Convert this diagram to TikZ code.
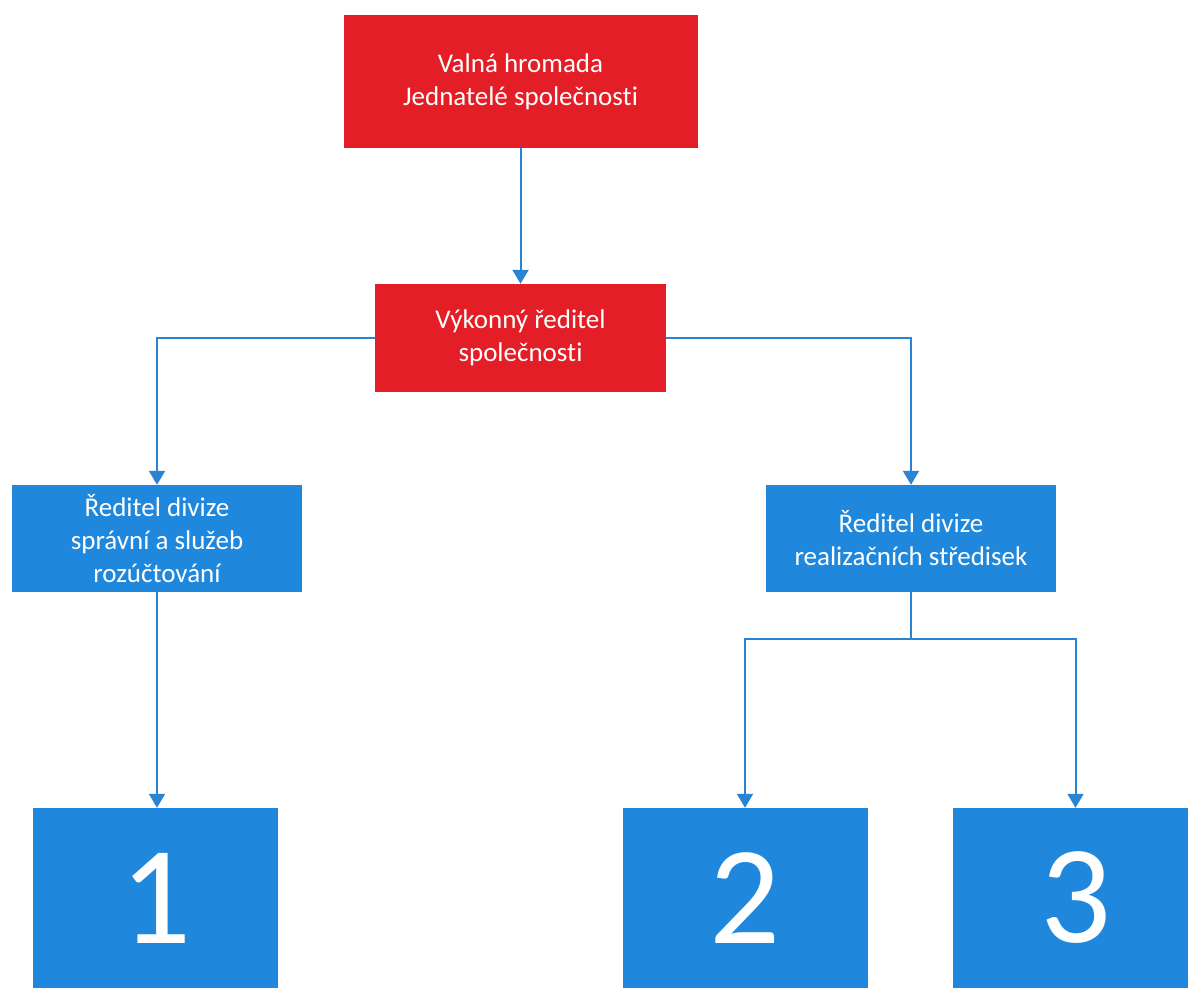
\documentclass[tikz,border=0pt]{standalone}
\usepackage{fontspec}
\setmainfont{Carlito}[Ligatures=NoCommon]
\usetikzlibrary{arrows.meta}
\definecolor{orgred}{RGB}{228,30,38}
\definecolor{orgblue}{RGB}{31,136,221}
\definecolor{lineblue}{RGB}{43,131,211}
\tikzset{
  orgbox/.style={text=white, align=center, inner sep=0pt,
    font=\fontsize{27}{33}\selectfont},
  redbox/.style={orgbox, fill=orgred},
  bluebox/.style={orgbox, fill=orgblue},
  numbox/.style={bluebox, minimum width=245pt, minimum height=180pt,
    font=\fontsize{140}{140}\selectfont},
  arr/.style={lineblue, line width=2pt, -{Triangle[width=16pt,length=14pt]}},
  conn/.style={lineblue, line width=2pt}
}
\begin{document}
\begin{tikzpicture}[x=1pt,y=-1pt]
    \useasboundingbox (0,0) rectangle (1188,988);
    \clip (0,0) rectangle (1188,988);
    % boxes
    \node[redbox, minimum width=354pt, minimum height=133pt] (valna) at (520.5,81.5) {Valná hromada\\Jednatelé společnosti};
    \node[redbox, minimum width=291pt, minimum height=108pt] (vykonny) at (520.5,338) {Výkonný ředitel\\společnosti};
    \node[bluebox, minimum width=290pt, minimum height=107pt] (spravni) at (157,538.5) {Ředitel divize\\správní a služeb\\rozúčtování};
    \node[bluebox, minimum width=290pt, minimum height=107pt] (realiz) at (911,538.5) {Ředitel divize\\realizačních středisek};
    \node[numbox] (div1) at (155.5,898) {1};
    \node[numbox] (div2) at (745,898) {2};
    \node[numbox] (div3) at (1075.5,898) {3};
    % connectors
    \draw[arr] (valna.south) -- (vykonny.north);
    \draw[arr] (vykonny.west) -| (spravni.north);
    \draw[arr] (vykonny.east) -| (realiz.north);
    \draw[arr] (spravni.south) -- (spravni.south |- div1.north);
    \path (realiz.south) ++(0,47) coordinate (split);
    \draw[conn] (realiz.south) -- (split);
    \draw[arr] (split) -| (div2.north);
    \draw[arr] (split) -| (div3.north);
\end{tikzpicture}
\end{document}
